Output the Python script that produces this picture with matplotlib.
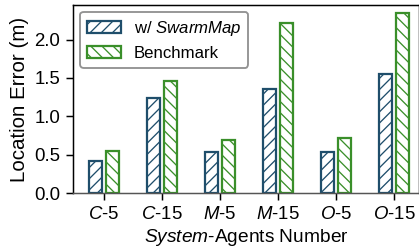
import numpy as np
import matplotlib
matplotlib.use("Agg")
import matplotlib.pyplot as plt

plt.rcParams['font.family'] = ['Liberation Sans', 'DejaVu Sans']
plt.rcParams['mathtext.fontset'] = 'custom'
plt.rcParams['mathtext.rm'] = 'Liberation Sans'
plt.rcParams['mathtext.it'] = 'Liberation Sans:italic'
plt.rcParams['hatch.linewidth'] = 0.7

systems = ["C", "C", "M", "M", "O", "O"]
agents = [5, 15, 5, 15, 5, 15]
swarmmap = [0.42, 1.24, 0.54, 1.36, 0.53, 1.55]
benchmark = [0.55, 1.46, 0.69, 2.22, 0.72, 2.35]

blue = '#1f4e6b'
green = '#3a8f2a'

dpi = 134
fig = plt.figure(figsize=(419 / dpi, 250 / dpi), dpi=dpi)
ax = fig.add_axes([0.175, 0.228, 0.825, 0.752])

x = np.arange(len(systems))
w = 0.22
ax.bar(x - 0.15, swarmmap, w, facecolor='white', edgecolor=blue,
       hatch='////', linewidth=1.2, label=r'w/ $\it{SwarmMap}$')
ax.bar(x + 0.15, benchmark, w, facecolor='white', edgecolor=green,
       hatch='\\\\\\\\', linewidth=1.2, label='Benchmark')

ax.set_xticks(x)
ax.set_xticklabels([r'$\it{%s}$-%d' % (s, a) for s, a in zip(systems, agents)])
ax.set_xlim(-0.53, 5.43)
ax.set_ylim(0, 2.45)
ax.set_yticks([0.0, 0.5, 1.0, 1.5, 2.0])
ax.set_ylabel('Location Error (m)', fontsize=11, labelpad=3)
ax.set_xlabel(r'$\it{System}$-Agents Number', fontsize=10.3, labelpad=2)
ax.tick_params(axis='both', labelsize=10)
ax.spines['bottom'].set_color('#555555')
ax.legend(loc='upper left', fontsize=9, edgecolor='#777777', fancybox=True,
          handlelength=2.0, handletextpad=0.78, borderaxespad=0.42,
          labelspacing=0.5)

fig.savefig('out.png', dpi=dpi)
